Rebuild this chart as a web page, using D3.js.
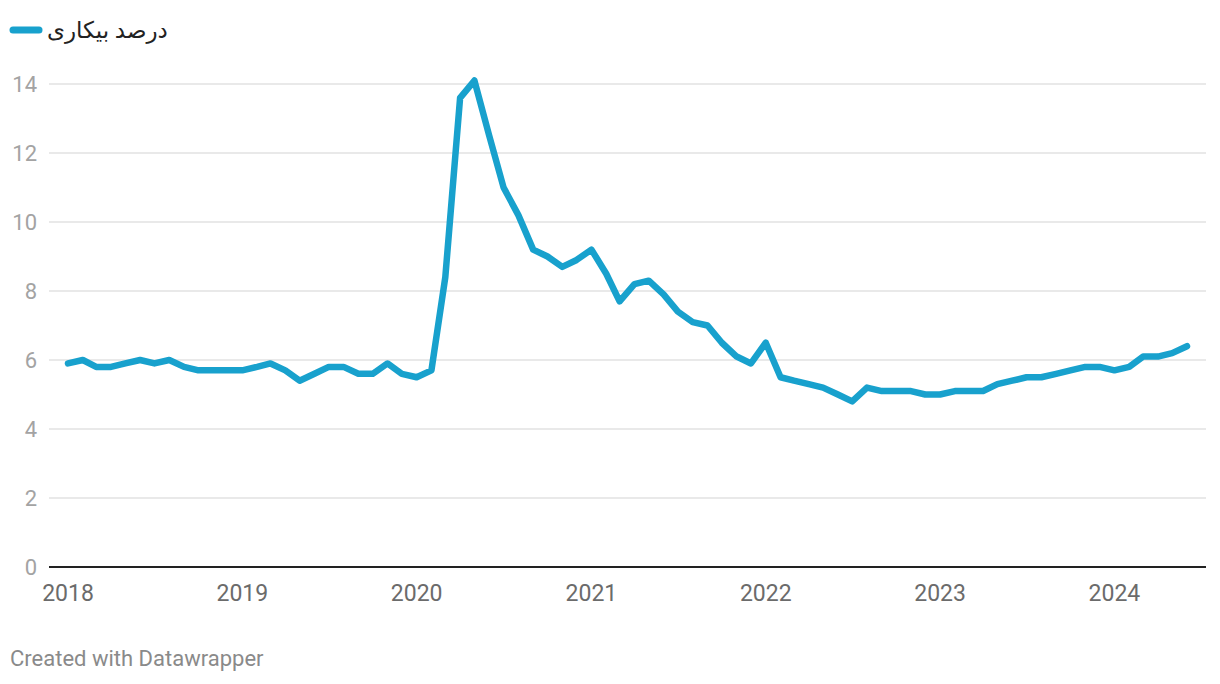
<!DOCTYPE html>
<html>
<head>
<meta charset="utf-8">
<script src="https://cdn.jsdelivr.net/npm/d3@7"></script>
<style>
  html, body { margin: 0; padding: 0; background: #fff; }
  svg { display: block; font-family: Roboto, "DejaVu Sans", sans-serif; }
</style>
</head>
<body>
<svg id="chart" width="1220" height="684"></svg>
<script>
// ---- data ----
const seriesName = "درصد بیکاری";
const startMonth = "2018-01";
const unemployment = [
  5.9, 6.0, 5.8, 5.8, 5.9, 6.0, 5.9, 6.0, 5.8, 5.7, 5.7, 5.7,
  5.7, 5.8, 5.9, 5.7, 5.4, 5.6, 5.8, 5.8, 5.6, 5.6, 5.9, 5.6,
  5.5, 5.7, 8.4, 13.6, 14.1, 12.5, 11.0, 10.2, 9.2, 9.0, 8.7, 8.9,
  9.2, 8.5, 7.7, 8.2, 8.3, 7.9, 7.4, 7.1, 7.0, 6.5, 6.1, 5.9,
  6.5, 5.5, 5.4, 5.3, 5.2, 5.0, 4.8, 5.2, 5.1, 5.1, 5.1, 5.0,
  5.0, 5.1, 5.1, 5.1, 5.3, 5.4, 5.5, 5.5, 5.6, 5.7, 5.8, 5.8,
  5.7, 5.8, 6.1, 6.1, 6.2, 6.4
];
const xTickLabels = ["2018", "2019", "2020", "2021", "2022", "2023", "2024"];
const yTickValues = [0, 2, 4, 6, 8, 10, 12, 14];
const footerText = "Created with Datawrapper";

// ---- build ----
const parseMonth = d3.utcParse("%Y-%m");
const t0 = parseMonth(startMonth);
const data = unemployment.map((v, i) => ({ date: d3.utcMonth.offset(t0, i), value: v }));

const svg = d3.select("#chart");
const x = d3.scaleUtc()
  .domain(d3.extent(data, d => d.date))
  .range([68, 1187]);
const y = d3.scaleLinear().domain([0, 14]).range([567, 84]);

const gridLeft = 49, gridRight = 1206;

// grid lines + y labels
const yAxis = svg.append("g");
yAxis.selectAll("line.grid")
  .data(yTickValues.filter(d => d !== 0))
  .join("line")
  .attr("x1", gridLeft).attr("x2", gridRight)
  .attr("y1", d => y(d)).attr("y2", d => y(d))
  .attr("stroke", "#e2e2e2").attr("stroke-width", 1.5);
yAxis.selectAll("text")
  .data(yTickValues)
  .join("text")
  .attr("x", 37).attr("y", d => y(d))
  .attr("dy", "0.36em")
  .attr("text-anchor", "end")
  .attr("fill", "#a3a3a3")
  .attr("font-size", 22)
  .text(d => d);

// baseline
svg.append("line")
  .attr("x1", gridLeft).attr("x2", gridRight)
  .attr("y1", y(0)).attr("y2", y(0))
  .attr("stroke", "#222").attr("stroke-width", 2);

// x axis labels
const xTicks = xTickLabels.map(s => d3.utcParse("%Y")(s));
svg.append("g").selectAll("text")
  .data(xTicks)
  .join("text")
  .attr("x", d => x(d))
  .attr("y", 601)
  .attr("text-anchor", "middle")
  .attr("fill", "#6b6b6b")
  .attr("font-size", 23)
  .text((d, i) => xTickLabels[i]);

// line
const line = d3.line().x(d => x(d.date)).y(d => y(d.value));
svg.append("path")
  .datum(data)
  .attr("d", line)
  .attr("fill", "none")
  .attr("stroke", "#18a1cd")
  .attr("stroke-width", 6.5)
  .attr("stroke-linejoin", "round")
  .attr("stroke-linecap", "round");

// legend
svg.append("line")
  .attr("x1", 13).attr("x2", 39).attr("y1", 30).attr("y2", 30)
  .attr("stroke", "#18a1cd").attr("stroke-width", 7).attr("stroke-linecap", "round");
svg.append("text")
  .attr("x", 47).attr("y", 38)
  .attr("text-anchor", "start")
  .attr("fill", "#222")
  .attr("font-size", 23)
  .text(seriesName);

// footer
svg.append("text")
  .attr("x", 10).attr("y", 666)
  .attr("fill", "#8a8a8a")
  .attr("font-size", 22)
  .text(footerText);
</script>
</body>
</html>
